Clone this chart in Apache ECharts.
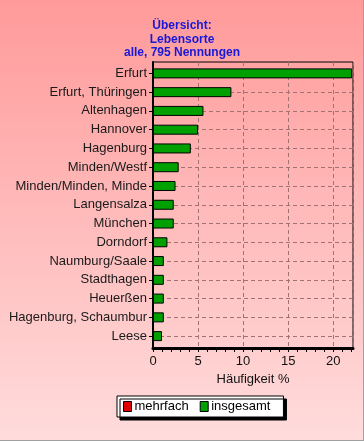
<!DOCTYPE html>
<html><head><meta charset="utf-8">
<script src="https://cdn.jsdelivr.net/npm/echarts@6/dist/echarts.min.js"></script>
<style>html,body{margin:0;padding:0;background:#fff;}#c{width:364px;height:441px;}</style>
</head><body><div id="c"></div>
<script>
const categories = ['Erfurt','Erfurt, Thüringen','Altenhagen','Hannover','Hagenburg','Minden/Westf','Minden/Minden, Minde','Langensalza','München','Dorndorf','Naumburg/Saale','Stadthagen','Heuerßen','Hagenburg, Schaumbur','Leese'];
const insgesamt = [22.1, 8.7, 5.6, 5.0, 4.2, 2.85, 2.5, 2.3, 2.3, 1.6, 1.2, 1.2, 1.2, 1.2, 1.0];
const mehrfach = [0, 0, 0, 0, 0, 0, 0, 0, 0, 0, 0, 0, 0, 0, 0];
const xMin = 0, xMax = 22.2, xInterval = 5;
const seriesNames = ['mehrfach', 'insgesamt'];
const titleLines = ['Übersicht:', 'Lebensorte', 'alle, 795 Nennungen'];
const xName = 'Häufigkeit %';

const FONT = '"Liberation Sans", Arial, sans-serif';
const chart = echarts.init(document.getElementById('c'), null, {renderer: 'canvas'});
chart.setOption({
  animation: false,
  backgroundColor: {type: 'linear', x: 0, y: 0, x2: 0, y2: 1,
    colorStops: [{offset: 0, color: '#ff9a9a'}, {offset: 1, color: '#ffdcdc'}]},
  textStyle: {fontFamily: FONT},
  title: titleLines.map((t, i) => ({
    text: t, left: 'center', top: 19.5 + i * 13.3, padding: 0,
    textStyle: {fontFamily: FONT, fontSize: 12, fontWeight: 'bold', color: '#1818d8', lineHeight: 13}
  })),
  legend: {
    left: 117, top: 396,
    padding: [4, 13, 4, 6],
    backgroundColor: '#ffffff', borderColor: '#000', borderWidth: 1,
    shadowColor: '#000', shadowBlur: 0, shadowOffsetX: 3, shadowOffsetY: 3,
    icon: 'rect', itemWidth: 8, itemHeight: 10, itemGap: 11,
    selectedMode: false,
    textStyle: {fontFamily: FONT, fontSize: 13, color: '#000', padding: [0, 0, 0, -2]},
    data: [
      {name: seriesNames[0], itemStyle: {color: '#e00000', borderColor: '#000', borderWidth: 1}},
      {name: seriesNames[1], itemStyle: {color: '#00a000', borderColor: '#000', borderWidth: 1}}
    ]
  },
  grid: [
    {left: 153, right: 11, top: 64, bottom: 95.5, show: false, containLabel: false},
    {left: 153, right: 11, top: 62, bottom: 93, show: true, borderColor: '#000', borderWidth: 1, backgroundColor: 'transparent', z: 0}
  ],
  xAxis: [
    {
      gridIndex: 0, type: 'value', min: xMin, max: xMax, interval: 1, offset: 2.5,
      axisLine: {show: false},
      axisTick: {show: true, length: 4, lineStyle: {color: '#000', width: 1}},
      splitLine: {show: false},
      axisLabel: {fontFamily: FONT, fontSize: 13, color: '#111', margin: 7, showMaxLabel: false,
        formatter: v => (v % xInterval === 0 ? String(v) : '')},
      name: xName, nameLocation: 'middle', nameGap: 23,
      nameTextStyle: {fontFamily: FONT, fontSize: 13, color: '#111'}
    },
    {
      gridIndex: 1, type: 'value', min: xMin, max: xMax, interval: xInterval,
      axisLine: {show: true, lineStyle: {color: '#000', width: 3}},
      axisTick: {show: false}, axisLabel: {show: false},
      splitLine: {show: true, lineStyle: {color: '#a07272', type: [4, 3], width: 1}}
    }
  ],
  yAxis: [
    {
      gridIndex: 0, type: 'category', inverse: true, data: categories,
      axisLine: {show: false},
      axisTick: {show: true, alignWithLabel: true, length: 4, lineStyle: {color: '#000'}},
      axisLabel: {fontFamily: FONT, fontSize: 13, color: '#1a1a1a', margin: 6},
      splitLine: {show: false}
    },
    {
      gridIndex: 1, type: 'value', min: 0, max: 1,
      axisLine: {show: true, lineStyle: {color: '#000', width: 2}},
      axisTick: {show: false}, axisLabel: {show: false}, splitLine: {show: false}
    }
  ],
  series: [
    {
      name: seriesNames[0], type: 'bar', xAxisIndex: 0, yAxisIndex: 0, z: 1,
      data: mehrfach, barWidth: 10, barGap: '-100%',
      itemStyle: {color: '#e00000', borderWidth: 0},
      markLine: {
        silent: true, symbol: 'none', animation: false, z: 1,
        label: {show: false},
        lineStyle: {color: '#a07272', type: [4, 3], width: 1},
        data: categories.map((c, i) => ({yAxis: i}))
      }
    },
    {
      name: seriesNames[1], type: 'bar', xAxisIndex: 0, yAxisIndex: 0, z: 4,
      data: insgesamt, barWidth: 10, barGap: '-100%',
      itemStyle: {color: '#00a000', borderColor: '#000', borderWidth: 1}
    }
  ],
  graphic: [
    {type: 'line', shape: {x1: 363.5, y1: 0, x2: 363.5, y2: 441}, style: {stroke: '#a0a0a0', lineWidth: 1}, silent: true},
    {type: 'line', shape: {x1: 0, y1: 440.5, x2: 364, y2: 440.5}, style: {stroke: '#a0a0a0', lineWidth: 1}, silent: true}
  ]
});
</script></body></html>
